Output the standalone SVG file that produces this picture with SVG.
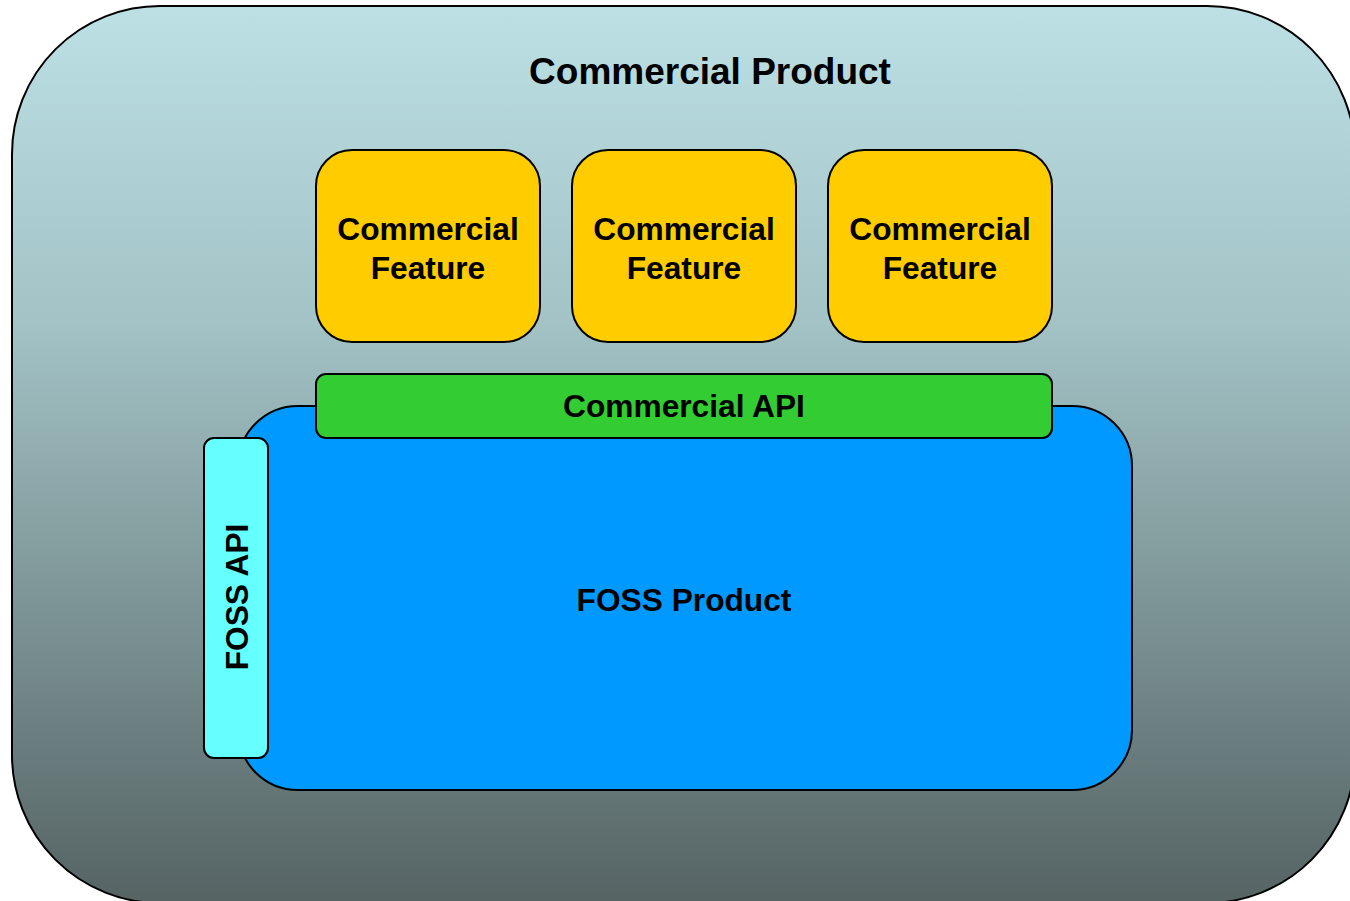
<svg xmlns="http://www.w3.org/2000/svg" width="1350" height="901" viewBox="0 0 1350 901">
  <defs>
    <linearGradient id="bg" x1="0" y1="0" x2="0" y2="1">
      <stop offset="0" stop-color="#BCE0E4"/>
      <stop offset="0.35" stop-color="#A3C3C6"/>
      <stop offset="1" stop-color="#556363"/>
    </linearGradient>
    <style>
      .box { stroke: #000; stroke-width: 2; }
      .t { font-family: "Liberation Sans", Arial, sans-serif; font-weight: bold; fill: #000; text-anchor: middle; }
      .feat { fill: #FFCC00; }
    </style>
  </defs>
  <g id="commercial-product">
    <rect class="box" x="12" y="6" width="1343" height="897" rx="148" ry="148" fill="url(#bg)"/>
    <text class="t" x="710" y="84" font-size="37">Commercial Product</text>
  </g>
  <g id="feature-1">
    <rect class="box feat" x="316" y="150" width="224" height="192" rx="36" ry="36"/>
    <text class="t" x="428" y="240" font-size="31.7">Commercial</text>
    <text class="t" x="428" y="279" font-size="31.7">Feature</text>
  </g>
  <g id="feature-2">
    <rect class="box feat" x="572" y="150" width="224" height="192" rx="36" ry="36"/>
    <text class="t" x="684" y="240" font-size="31.7">Commercial</text>
    <text class="t" x="684" y="279" font-size="31.7">Feature</text>
  </g>
  <g id="feature-3">
    <rect class="box feat" x="828" y="150" width="224" height="192" rx="36" ry="36"/>
    <text class="t" x="940" y="240" font-size="31.7">Commercial</text>
    <text class="t" x="940" y="279" font-size="31.7">Feature</text>
  </g>
  <g id="foss-product">
    <rect class="box" x="238" y="406" width="894" height="384" rx="60" ry="60" fill="#0099FF"/>
    <text class="t" x="684" y="611" font-size="31.7">FOSS Product</text>
  </g>
  <g id="commercial-api">
    <rect class="box" x="316" y="374" width="736" height="64" rx="10" ry="10" fill="#33CC33"/>
    <text class="t" x="684" y="417" font-size="31.7">Commercial API</text>
  </g>
  <g id="foss-api">
    <rect class="box" x="204" y="438" width="64" height="320" rx="10" ry="10" fill="#66FFFF"/>
    <text class="t" x="0" y="0" font-size="31.7" transform="translate(248 597) rotate(-90)">FOSS API</text>
  </g>
  <g id="connectors"></g>
</svg>
